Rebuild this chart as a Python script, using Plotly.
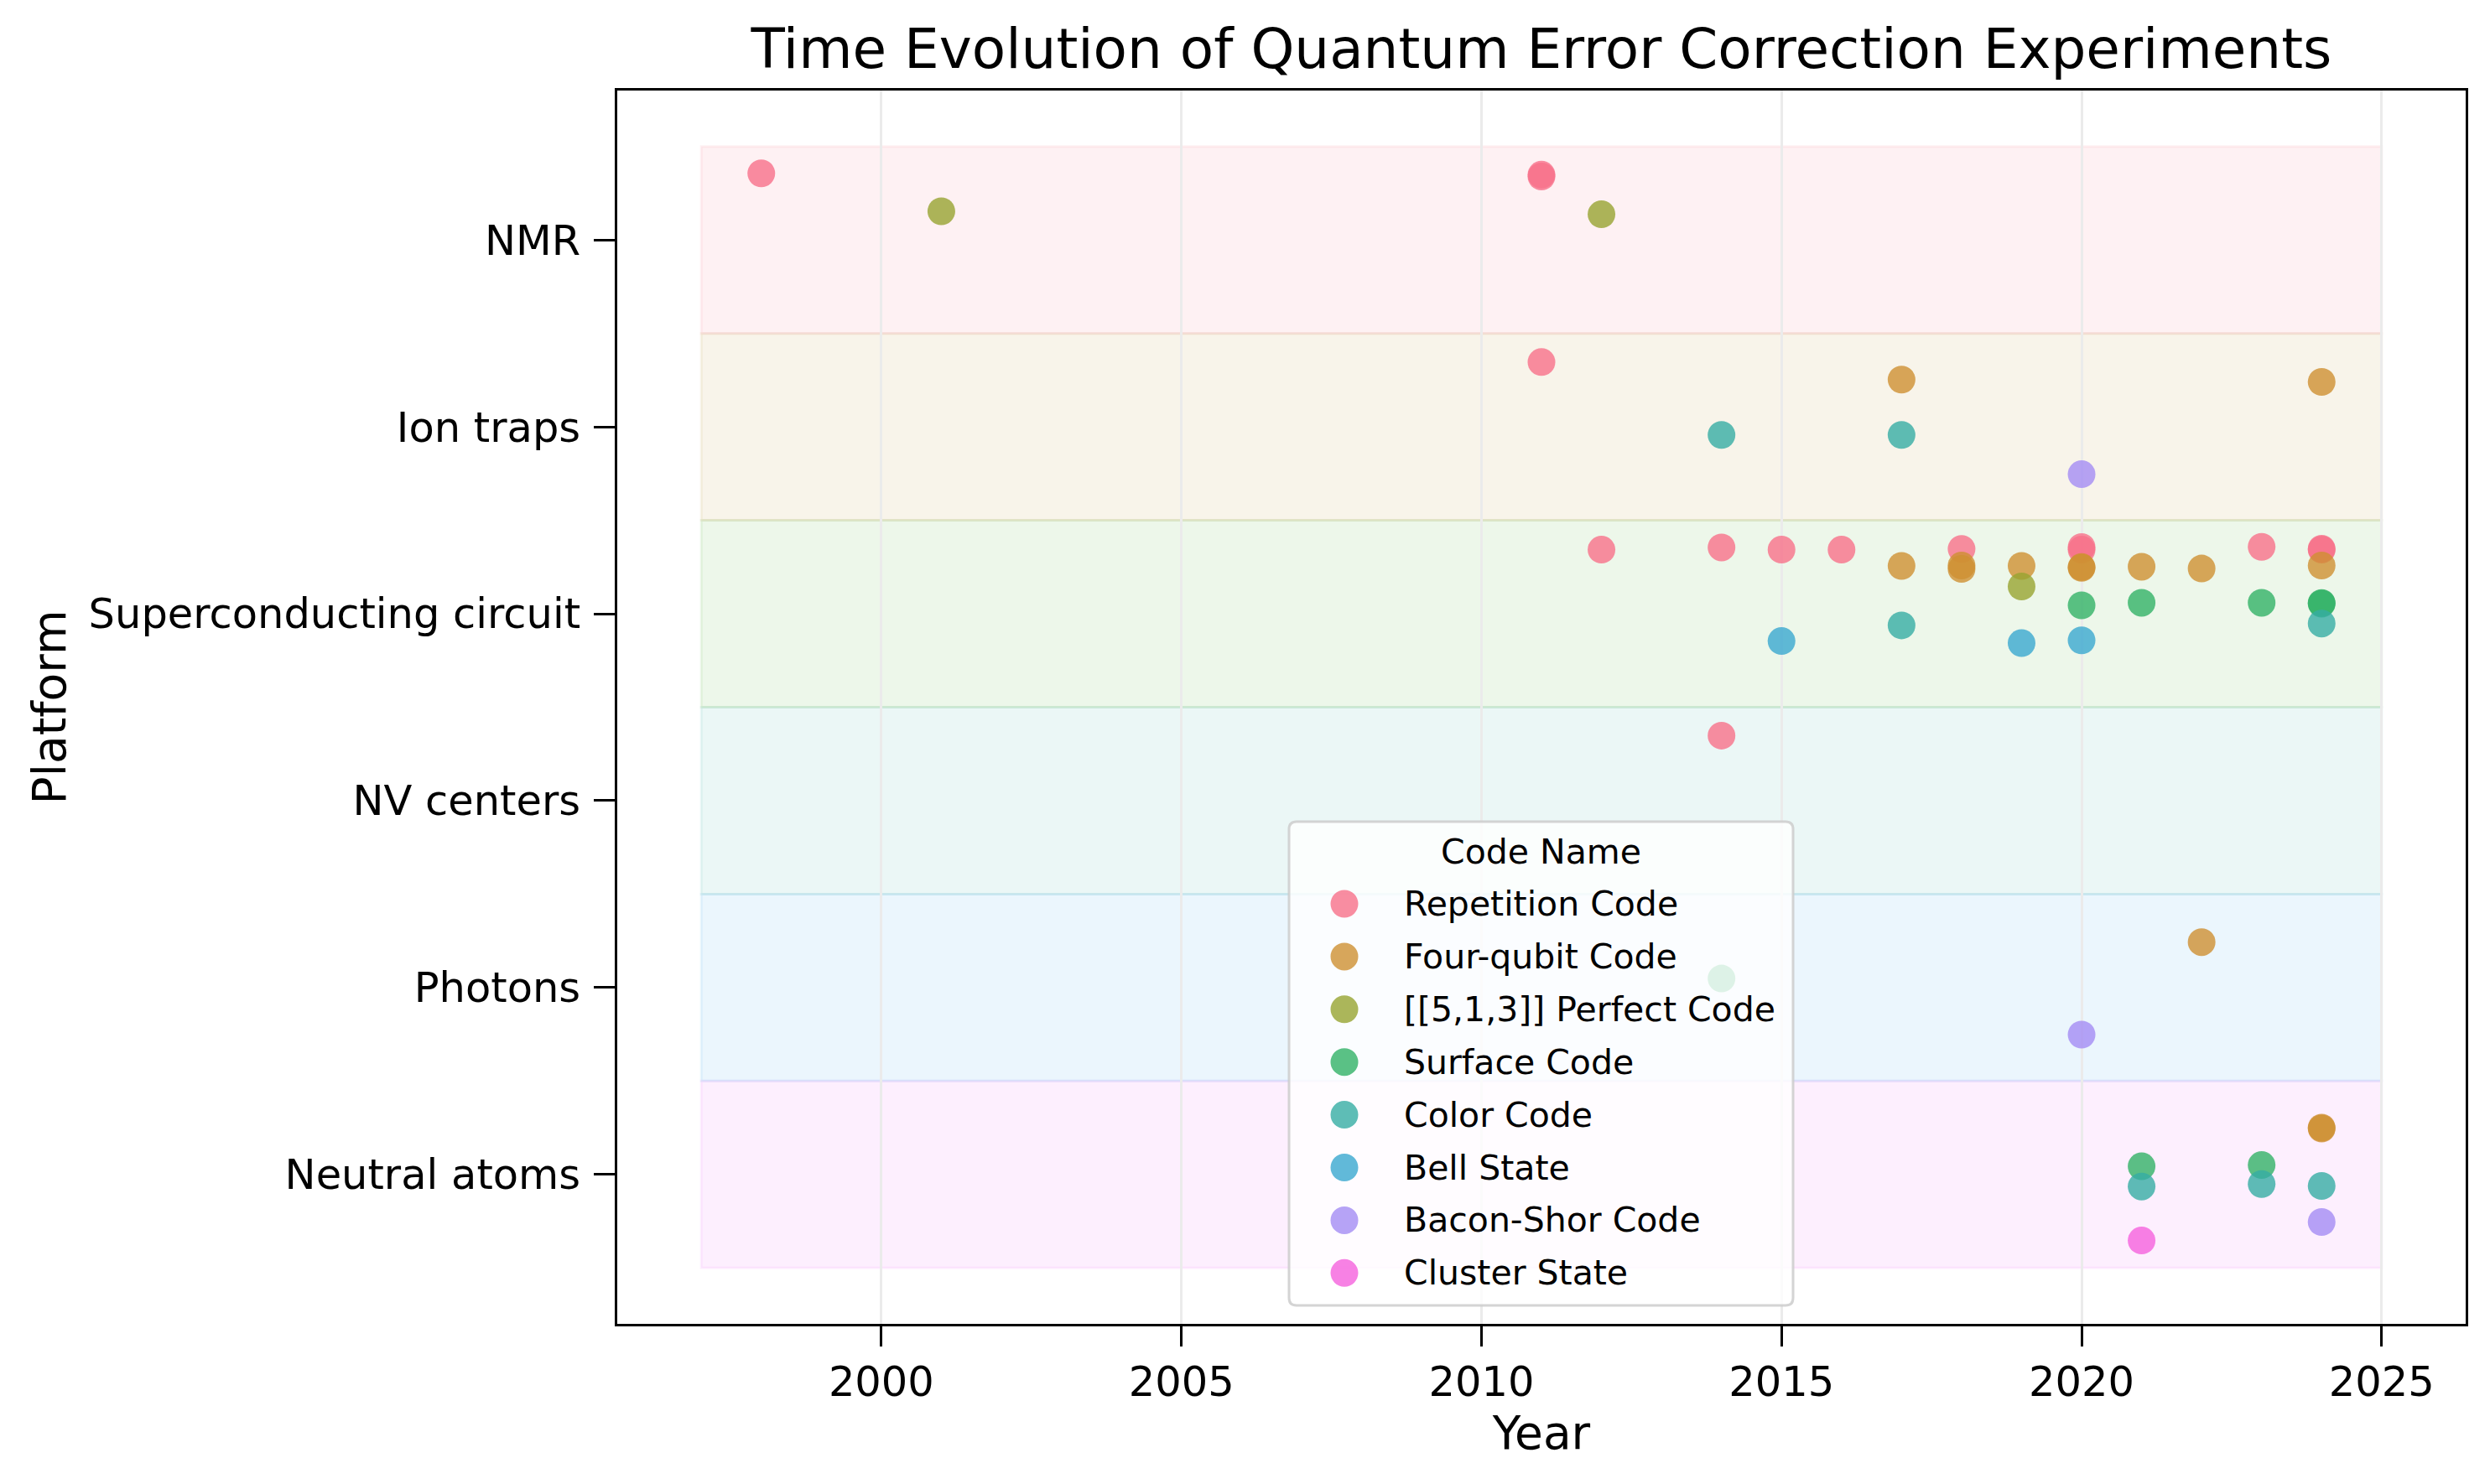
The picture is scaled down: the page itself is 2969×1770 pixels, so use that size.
import plotly.graph_objects as go

# ---------------- data ----------------
platforms = ["Neutral atoms", "Photons", "NV centers", "Superconducting circuit", "Ion traps", "NMR"]
band_colors = ["#e866f4", "#3ba3ec", "#36ada4", "#50b131", "#bb9832", "#f77189"]

code_names = ["Repetition Code", "Four-qubit Code", "[[5,1,3]] Perfect Code", "Surface Code",
              "Color Code", "Bell State", "Bacon-Shor Code", "Cluster State"]
code_colors = ["#f77189", "#ce9032", "#97a431", "#32b166", "#36ada4", "#39a7d0", "#a48cf4", "#f561dd"]
code_offsets = [0.35, 0.25, 0.15, 0.05, -0.05, -0.15, -0.25, -0.35]

years = [1998, 2011, 2011, 2001, 2012,
         2011, 2017, 2024, 2014, 2017, 2020,
         2012, 2014, 2015, 2016, 2018, 2020, 2020, 2023, 2024, 2024,
         2017, 2018, 2018, 2019, 2020, 2020, 2021, 2022, 2024,
         2019, 2020, 2021, 2023, 2024, 2024,
         2017, 2024, 2015, 2019, 2020,
         2014,
         2022, 2014, 2020,
         2024, 2024, 2021, 2023, 2021, 2023, 2024, 2024, 2021]
platform_of = (["NMR"] * 5 + ["Ion traps"] * 6 + ["Superconducting circuit"] * 30 +
               ["NV centers"] * 1 + ["Photons"] * 3 + ["Neutral atoms"] * 9)
code_of = ["Repetition Code", "Repetition Code", "Repetition Code", "[[5,1,3]] Perfect Code", "[[5,1,3]] Perfect Code",
           "Repetition Code", "Four-qubit Code", "Four-qubit Code", "Color Code", "Color Code", "Bacon-Shor Code",
           "Repetition Code", "Repetition Code", "Repetition Code", "Repetition Code", "Repetition Code",
           "Repetition Code", "Repetition Code", "Repetition Code", "Repetition Code", "Repetition Code",
           "Four-qubit Code", "Four-qubit Code", "Four-qubit Code", "Four-qubit Code", "Four-qubit Code",
           "Four-qubit Code", "Four-qubit Code", "Four-qubit Code", "Four-qubit Code",
           "[[5,1,3]] Perfect Code", "Surface Code", "Surface Code", "Surface Code", "Surface Code", "Surface Code",
           "Color Code", "Color Code", "Bell State", "Bell State", "Bell State",
           "Repetition Code",
           "Four-qubit Code", "Surface Code", "Bacon-Shor Code",
           "Four-qubit Code", "Four-qubit Code", "Surface Code", "Surface Code", "Color Code", "Color Code",
           "Color Code", "Bacon-Shor Code", "Cluster State"]
jitter = [0.007, 0.0, -0.010, 0.004, -0.012,
          -0.003, 0.003, -0.009, 0.007, 0.007, -0.003,
          -0.007, 0.005, -0.007, -0.007, -0.003, 0.007, -0.007, 0.008, -0.007, -0.002,
          0.006, 0.008, -0.010, 0.006, -0.004, 0.0, 0.002, -0.008, 0.008,
          -0.004, -0.005, 0.009, 0.009, 0.008, 0.004,
          -0.012, -0.002, 0.004, -0.007, 0.008,
          -0.002,
          -0.007, -0.002, -0.002,
          -0.005, 0.0, -0.007, 0.0, -0.015, -0.002, -0.012, -0.005, -0.004]

year_ticks = [2000, 2005, 2010, 2015, 2020, 2025]

# ---------------- layout constants ----------------
# the html page body has an 8px margin, so the figure is laid out 8px smaller/offset
OFF = 8
W, H = 2969 - 2 * OFF, 1770 - 2 * OFF
PW, PH = 2204, 1471
ML, MT = 736 - OFF, 108 - OFF
MR, MB = W - ML - PW, H - MT - PH
FONT = "DejaVu Sans"

band_x0 = min(years) - 1
band_x1 = max(years) + 1
xpad = 0.05 * (band_x1 - band_x0)
ypad = 0.05 * len(platforms)

fig = go.Figure()

for ci, name in enumerate(code_names):
    xs, ys = [], []
    for yr, pf, cd, jt in zip(years, platform_of, code_of, jitter):
        if cd == name:
            xs.append(yr)
            ys.append(platforms.index(pf) + code_offsets[ci] + jt)
    fig.add_trace(go.Scatter(
        x=xs, y=ys, mode="markers", name=name, showlegend=False,
        marker=dict(size=33, color=code_colors[ci], opacity=0.8, line=dict(width=0)),
    ))


def rgba(hexc, a):
    h = hexc.lstrip("#")
    return "rgba(%d,%d,%d,%s)" % (int(h[0:2], 16), int(h[2:4], 16), int(h[4:6], 16), a)


shapes = []
for i, pf in enumerate(platforms):
    shapes.append(dict(type="rect", xref="x", yref="y", x0=band_x0, x1=band_x1,
                       y0=i - 0.5, y1=i + 0.5, layer="below",
                       fillcolor=rgba(band_colors[i], 0.1),
                       line=dict(color=rgba(band_colors[i], 0.1), width=3)))

# ---------------- manual legend (matplotlib-style) ----------------
# pixel positions below are in screen coordinates (page incl. body margin)
def px_x(p):
    return (p - OFF - ML) / PW


def px_y(p):
    return (MT + PH - (p - OFF)) / PH


lx0, lx1, ly0, ly1 = 1537, 2138, 980, 1557
r = 9
rx, ry = r / PW, r / PH
X0, X1, Y0, Y1 = px_x(lx0), px_x(lx1), px_y(ly1), px_y(ly0)
path = (f"M {X0+rx},{Y0} L {X1-rx},{Y0} Q {X1},{Y0} {X1},{Y0+ry} "
        f"L {X1},{Y1-ry} Q {X1},{Y1} {X1-rx},{Y1} L {X0+rx},{Y1} Q {X0},{Y1} {X0},{Y1-ry} "
        f"L {X0},{Y0+ry} Q {X0},{Y0} {X0+rx},{Y0} Z")
shapes.append(dict(type="path", xref="paper", yref="paper", path=path, layer="above",
                   fillcolor="rgba(255,255,255,0.8)",
                   line=dict(color="rgba(204,204,204,0.85)", width=3)))

annotations = []
annotations.append(dict(text="Code Name", xref="paper", yref="paper",
                        x=px_x((lx0 + lx1) / 2), y=px_y(1016), xanchor="center", yanchor="middle",
                        showarrow=False, font=dict(family=FONT, size=41, color="black")))
row0, row_step = 1078, 62.9
for k, name in enumerate(code_names):
    cy = row0 + k * row_step
    shapes.append(dict(type="circle", xref="paper", yref="paper", layer="above",
                       xsizemode="pixel", ysizemode="pixel",
                       xanchor=px_x(1603), yanchor=px_y(cy),
                       x0=-16.5, x1=16.5, y0=-16.5, y1=16.5,
                       fillcolor=code_colors[k], opacity=0.8, line=dict(width=0)))
    annotations.append(dict(text=name, xref="paper", yref="paper",
                            x=px_x(1672), y=px_y(cy), xanchor="left", yanchor="middle",
                            showarrow=False, font=dict(family=FONT, size=41, color="black")))

fig.update_layout(
    width=W, height=H,
    margin=dict(l=ML, r=MR, t=MT, b=MB, autoexpand=False),
    paper_bgcolor="white", plot_bgcolor="white",
    font=dict(family=FONT, color="black"),
    title=dict(text="Time Evolution of Quantum Error Correction Experiments",
               x=0.5, xref="paper", xanchor="center",
               y=1 - (58 - OFF) / H, yref="container", yanchor="middle",
               font=dict(family=FONT, size=66, color="black")),
    shapes=shapes,
    annotations=annotations,
    showlegend=False,
)

fig.update_xaxes(
    range=[band_x0 - xpad, band_x1 + xpad],
    tickvals=year_ticks, ticktext=[str(v) for v in year_ticks],
    showgrid=True, gridcolor="#ebebeb", gridwidth=3, zeroline=False,
    showline=True, linecolor="black", linewidth=3, mirror=True,
    ticks="outside", ticklen=24, tickwidth=3, tickcolor="black",
    tickfont=dict(family=FONT, size=49.5, color="black"),
    title=dict(text="Year", font=dict(family=FONT, size=55, color="black"), standoff=12),
    automargin=False,
)
fig.update_yaxes(
    range=[-0.5 - ypad, len(platforms) - 0.5 + ypad],
    tickvals=list(range(len(platforms))), ticktext=platforms,
    showgrid=False, zeroline=False,
    showline=True, linecolor="black", linewidth=3, mirror=True,
    ticks="outside", ticklen=25, tickwidth=3, tickcolor="black",
    tickfont=dict(family=FONT, size=49.5, color="black"),
    ticklabelstandoff=6,
    title=dict(text="Platform", font=dict(family=FONT, size=55, color="black"), standoff=10),
    automargin=False,
)

fig.write_html("out.html")
